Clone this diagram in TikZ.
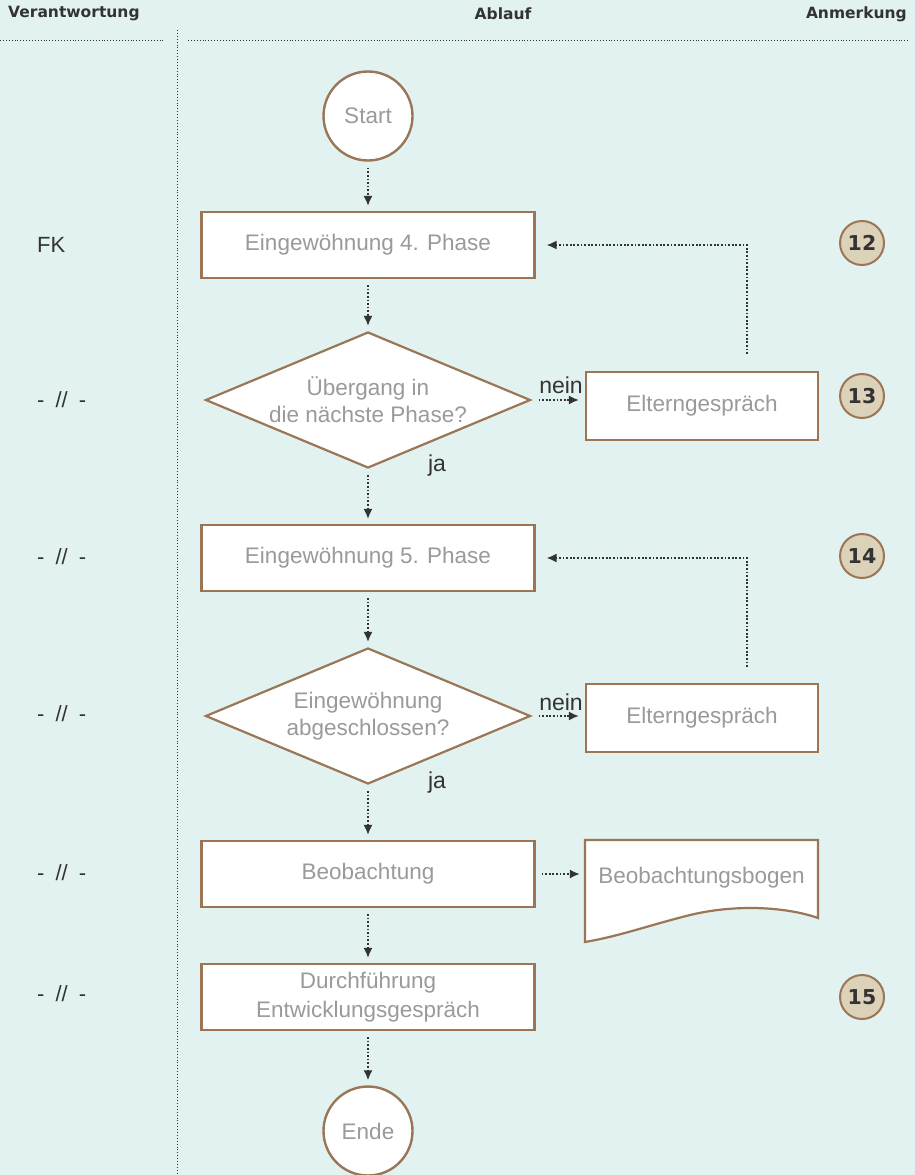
\documentclass[tikz,border=0pt]{standalone}
\usepackage{fontspec}
\setmainfont{Liberation Sans}
\newfontfamily\headfont{DejaVu Sans}
\usetikzlibrary{shapes.geometric,arrows.meta}
\definecolor{bg}{HTML}{E2F2F0}
\definecolor{brn}{HTML}{9A7656}
\definecolor{numfill}{HTML}{DCD1B9}
\definecolor{txtgray}{HTML}{9A9A9A}
\definecolor{dark}{HTML}{333333}
\tikzset{
  stepbox/.style={draw=brn, fill=white, line width=2.2pt, minimum width=333pt, minimum height=66pt, inner sep=0pt, align=center, font=\fontsize{22.5}{29}\selectfont, text=txtgray},
  elbox/.style={stepbox, minimum width=232pt, minimum height=68pt},
  decide/.style={diamond, aspect=2.39, draw=brn, fill=white, line width=2.2pt, minimum width=325pt, minimum height=136pt, inner sep=0pt, align=center, font=\fontsize{22.5}{27}\selectfont, text=txtgray},
  term/.style={circle, draw=brn, fill=white, line width=2.4pt, minimum size=89pt, inner sep=0pt, font=\fontsize{22.5}{24}\selectfont, text=txtgray},
  num/.style={circle, draw=brn, fill=numfill, line width=2pt, minimum size=44pt, inner sep=0pt, font=\headfont\bfseries\fontsize{20.5}{22}\selectfont, text=dark},
  arr/.style={draw=dark, line width=1.7pt, dash pattern=on 1.7pt off 1.9pt, -{Latex[length=10pt,width=9pt]}},
  side/.style={font=\fontsize{22}{24}\selectfont, text=dark, anchor=west, inner sep=0pt},
  lbl/.style={font=\fontsize{23}{24}\selectfont, text=dark},
  head/.style={font=\headfont\bfseries\fontsize{15.5}{17}\selectfont, text=dark},
  sep/.style={draw=dark, line width=0.9pt, dotted}
}
\newcommand{\ditto}{-\hspace{11pt}//\hspace{11pt}-}
\begin{document}
\begin{tikzpicture}[x=1pt,y=-1pt]
\fill[bg] (0,0) rectangle (915,1175);
\useasboundingbox (0,0) rectangle (915,1175);
% header
\node[head, anchor=west, inner sep=0pt] (hv) at (8,14) {Verantwortung};
\node[head] (ha) at (503,14) {Ablauf};
\node[head, anchor=east, inner sep=0pt] (hn) at (907,14) {Anmerkung};
\coordinate (s1a) at (0,40); \coordinate (s1b) at (165,40);
\coordinate (s2a) at (188,40); \coordinate (s2b) at (910,40);
\coordinate (v1) at (177,30); \coordinate (v2) at (177,1175);
\draw[sep] (s1a) -- (s1b);
\draw[sep] (s2a) -- (s2b);
\draw[sep] (v1) -- (v2);
% main flow
\node[term] (start) at (368,116) {Start};
\node[stepbox] (b1) at (368,245) {Eingewöhnung 4. Phase};
\node[decide] (d1) at (368,400) {Übergang in\\die nächste Phase?};
\node[elbox] (e1) at (702,406) {Elterngespräch};
\node[stepbox] (b2) at (368,558) {Eingewöhnung 5. Phase};
\node[decide] (d2) at (368,716) {Eingewöhnung\\abgeschlossen?};
\node[elbox] (e2) at (702,718) {Elterngespräch};
\node[stepbox] (b3) at (368,874) {Beobachtung};
\node[stepbox] (b4) at (368,997) {Durchführung\\Entwicklungsgespräch};
\node[term] (ende) at (368,1131) {Ende};
% document shape
\coordinate (dtl) at (585,840); \coordinate (dtr) at (818,840);
\coordinate (dbr) at (818,918); \coordinate (dbl) at (585,942);
\draw[draw=brn, fill=white, line width=2.2pt] (dbl) -- (dtl) -- (dtr) -- (dbr)
  .. controls (790,908) and (740,903) .. (690,915)
  .. controls (650,925) and (620,936) .. (dbl) -- cycle;
\node[minimum width=233pt, inner sep=0pt, font=\fontsize{22.5}{24}\selectfont, text=txtgray] (doc) at (701.5,878) {Beobachtungsbogen};
% numbers
\node[num] (n12) at (862,243) {12};
\node[num] (n13) at (862,396) {13};
\node[num] (n14) at (862,556) {14};
\node[num] (n15) at (862,997) {15};
% side labels
\node[side] (r1) at (37,245) {FK};
\node[side] (r2) at (37,400) {\ditto};
\node[side] (r3) at (37,557) {\ditto};
\node[side] (r4) at (37,714) {\ditto};
\node[side] (r5) at (37,873) {\ditto};
\node[side] (r6) at (37,994) {\ditto};
% connectors
\draw[arr, shorten <=6pt, shorten >=5pt] (start.south) -- (b1.north);
\draw[arr, shorten <=6pt, shorten >=5pt] (b1.south) -- (d1.north);
\draw[arr, shorten <=6pt, shorten >=5pt] (d1.south) -- (b2.north);
\draw[arr, shorten <=6pt, shorten >=5pt] (b2.south) -- (d2.north);
\draw[arr, shorten <=6pt, shorten >=5pt] (d2.south) -- (b3.north);
\draw[arr, shorten <=6pt, shorten >=5pt] (b3.south) -- (b4.north);
\draw[arr, shorten <=6pt, shorten >=5pt] (b4.south) -- (ende.north);
\draw[arr, shorten <=7pt, shorten >=6pt] (d1.east) -- (e1.west |- d1.east);
\draw[arr, shorten <=7pt, shorten >=6pt] (d2.east) -- (e2.west |- d2.east);
\draw[arr, shorten <=6pt, shorten >=5pt] (b3.east) -- (doc.west |- b3.east);
\draw[arr, shorten <=17pt, shorten >=11pt] ([xshift=45pt]e1.north) |- (b1.east);
\draw[arr, shorten <=16pt, shorten >=11pt] ([xshift=45pt]e2.north) |- (b2.east);
\node[lbl] (n1) at (561,385) {nein};
\node[lbl] (n2) at (561,702) {nein};
\node[lbl] (j1) at (437,466) {ja};
\node[lbl] (j2) at (437,783) {ja};
\end{tikzpicture}
\end{document}
